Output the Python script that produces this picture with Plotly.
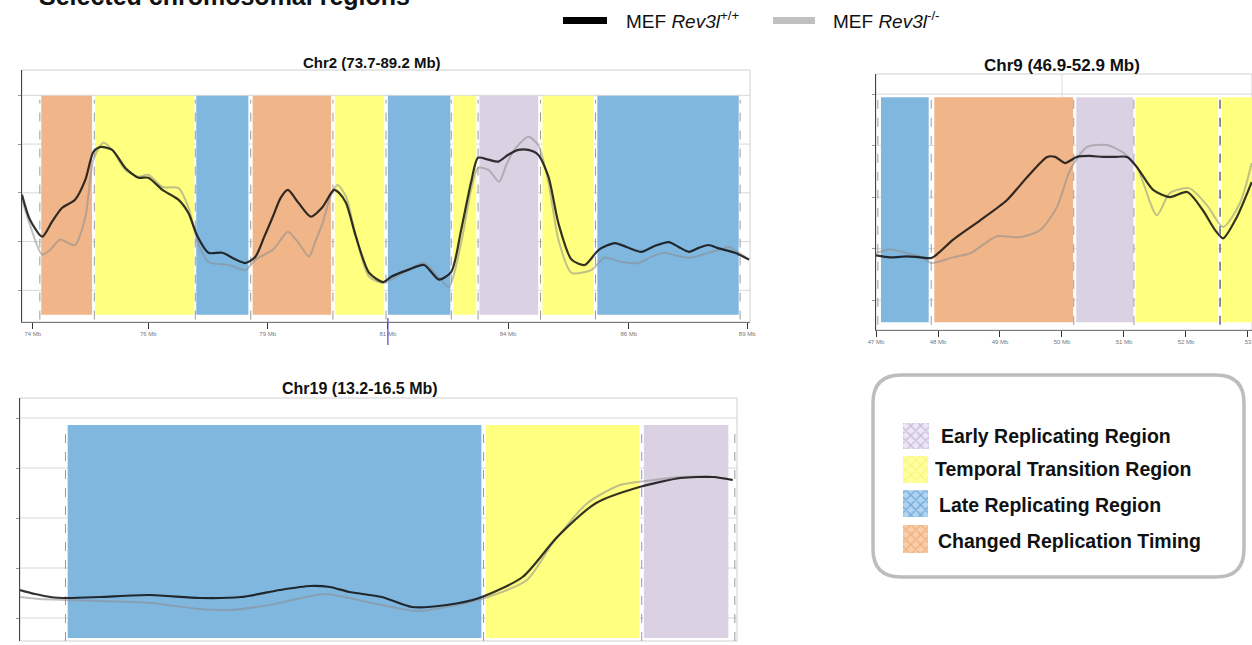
import plotly.graph_objects as go

W, H = 1252, 645

# ---------------- data ----------------
# Chr2 (73.7-89.2 Mb): replication timing profiles
chr2_x_wt = [73.70, 73.87, 74.13, 74.34, 74.55, 74.83, 75.05, 75.22, 75.37, 75.62, 75.90, 76.18, 76.39,
             76.69, 77.03, 77.24, 77.44, 77.67, 77.97, 78.25, 78.46, 78.67, 78.85, 79.04, 79.21, 79.36,
             79.59, 79.85, 80.10, 80.34, 80.45, 80.60, 80.81, 81.09, 81.39, 81.56, 81.92, 82.26, 82.58,
             82.84, 83.05, 83.26, 83.41, 83.63, 83.84, 84.05, 84.27, 84.48, 84.69, 84.91, 85.12, 85.40,
             85.68, 85.98, 86.32, 86.57, 86.89, 87.17, 87.47, 87.68, 87.90, 88.11, 88.32, 88.50, 88.66,
             88.88, 89.18]
chr2_y_wt = [-0.04, -0.55, -0.90, -0.59, -0.31, -0.14, 0.27, 0.84, 0.94, 0.88, 0.51, 0.31, 0.31,
             0.06, -0.14, -0.41, -0.90, -1.23, -1.23, -1.37, -1.44, -1.31, -0.92, -0.49, -0.10, 0.06,
             -0.21, -0.49, -0.29, 0.06, 0.00, -0.21, -0.90, -1.64, -1.83, -1.72, -1.58, -1.48, -1.78,
             -1.62, -0.76, 0.21, 0.72, 0.68, 0.64, 0.78, 0.88, 0.88, 0.78, 0.33, -0.62, -1.37,
             -1.48, -1.17, -1.03, -1.11, -1.21, -1.09, -1.01, -1.11, -1.21, -1.13, -1.07, -1.13, -1.17,
             -1.23, -1.37]
chr2_x_ko = [73.70, 73.87, 74.13, 74.30, 74.51, 74.68, 74.83, 75.05, 75.22, 75.43, 75.62, 75.90, 76.18,
             76.39, 76.69, 77.03, 77.24, 77.44, 77.67, 78.10, 78.46, 78.67, 79.04, 79.21, 79.36, 79.59,
             79.81, 79.96, 80.10, 80.28, 80.42, 80.60, 80.81, 81.09, 81.39, 81.56, 81.92, 82.26, 82.56,
             82.79, 83.05, 83.26, 83.41, 83.63, 83.86, 84.01, 84.18, 84.48, 84.69, 84.91, 85.12, 85.40,
             85.83, 86.10, 86.47, 86.83, 87.11, 87.38, 87.64, 87.90, 88.11, 88.32, 88.56, 88.75, 89.03,
             89.18]
chr2_y_ko = [-0.14, -0.66, -1.27, -1.17, -0.96, -1.03, -1.07, -0.49, 0.68, 1.03, 0.88, 0.47, 0.33,
             0.37, 0.12, 0.10, -0.29, -1.01, -1.42, -1.48, -1.58, -1.37, -1.17, -0.96, -0.80, -1.03,
             -1.31, -0.96, -0.62, -0.04, 0.16, -0.08, -0.90, -1.72, -1.85, -1.78, -1.58, -1.44, -1.72,
             -1.93, -1.03, 0.06, 0.51, 0.47, 0.23, 0.57, 0.88, 1.15, 0.98, 0.21, -0.96, -1.64,
             -1.58, -1.33, -1.42, -1.44, -1.31, -1.23, -1.29, -1.33, -1.29, -1.23, -1.17, -1.11, -1.27,
             -1.37]
chr2_reg_start = [74.11, 75.26, 77.41, 78.61, 80.36, 81.49, 82.88, 83.44, 84.78, 85.95]
chr2_reg_end = [75.19, 77.37, 78.52, 80.28, 81.41, 82.82, 83.37, 84.69, 85.87, 88.96]
chr2_reg_type = ["changed", "transition", "late", "changed", "transition", "late",
                 "transition", "early", "transition", "late"]
chr2_bounds = [74.08, 75.24, 77.39, 78.57, 80.32, 81.45, 82.84, 83.41, 84.74, 85.91, 88.99]
chr2_tickvals = [73.93, 76.39, 78.93, 81.49, 84.05, 86.62, 89.14]
chr2_ticktext = ["74 Mb", "76 Mb", "79 Mb", "81 Mb", "84 Mb", "86 Mb", "89 Mb"]

# Chr9 (46.9-52.9 Mb)
chr9_x_wt = [46.90, 47.13, 47.40, 47.61, 47.80, 48.14, 48.58, 49.01, 49.34, 49.66, 49.79, 49.95, 50.14,
             50.35, 50.56, 50.75, 50.95, 51.11, 51.37, 51.64, 51.92, 52.17, 52.37, 52.50, 52.72, 52.96]
chr9_y_wt = [-1.13, -1.17, -1.15, -1.17, -1.18, -0.83, -0.45, -0.06, 0.39, 0.78, 0.78, 0.66, 0.78,
             0.80, 0.78, 0.78, 0.78, 0.58, 0.14, 0.00, 0.10, -0.25, -0.64, -0.80, -0.39, 0.29]
chr9_x_ko = [46.90, 47.13, 47.40, 47.61, 47.80, 48.14, 48.42, 48.85, 49.22, 49.55, 49.82, 50.03, 50.30,
             50.63, 50.88, 51.11, 51.43, 51.64, 51.96, 52.24, 52.50, 52.77, 52.96]
chr9_y_ko = [-1.09, -1.01, -1.09, -1.15, -1.28, -1.17, -1.09, -0.76, -0.78, -0.64, -0.19, 0.52, 0.97,
             1.01, 0.87, 0.58, -0.35, 0.08, 0.17, -0.16, -0.58, -0.12, 0.66]
chr9_reg_start = [46.98, 47.84, 50.13, 51.09, 52.48]
chr9_reg_end = [47.75, 50.08, 51.05, 52.42, 53.05]
chr9_reg_type = ["late", "changed", "early", "transition", "transition"]
chr9_bounds = [46.93, 47.79, 50.09, 51.06]
chr9_bounds_dark = [52.45]
chr9_tickvals = [46.9, 47.9, 48.9, 49.9, 50.9, 51.9, 52.9]
chr9_ticktext = ["47 Mb", "48 Mb", "49 Mb", "50 Mb", "51 Mb", "52 Mb", "53"]

# Chr19 (13.2-16.5 Mb)
chr19_x_wt = [13.20, 13.27, 13.34, 13.42, 13.57, 13.80, 14.03, 14.22, 14.40, 14.54, 14.63, 14.72,
              14.87, 15.01, 15.17, 15.32, 15.52, 15.68, 15.86, 16.06, 16.25, 16.40, 16.49]
chr19_y_wt = [-1.44, -1.52, -1.58, -1.60, -1.58, -1.54, -1.60, -1.58, -1.44, -1.36, -1.38, -1.48,
              -1.58, -1.78, -1.74, -1.60, -1.18, -0.38, 0.30, 0.62, 0.80, 0.82, 0.76]
chr19_x_ko = [13.20, 13.29, 13.42, 13.57, 13.80, 14.03, 14.17, 14.35, 14.54, 14.61, 14.72, 14.87,
              15.03, 15.17, 15.36, 15.54, 15.66, 15.82, 15.97, 16.09, 16.25, 16.40, 16.49]
chr19_y_ko = [-1.58, -1.62, -1.64, -1.66, -1.70, -1.82, -1.84, -1.74, -1.56, -1.52, -1.60, -1.74,
              -1.86, -1.78, -1.58, -1.24, -0.50, 0.30, 0.66, 0.74, 0.82, 0.82, 0.76]
chr19_reg_start = [13.42, 15.35, 16.08]
chr19_reg_end = [15.33, 16.06, 16.47]
chr19_reg_type = ["late", "transition", "early"]
chr19_bounds = [13.41, 15.34, 16.07, 16.50]

legend_labels = ["Early Replicating Region", "Temporal Transition Region",
                 "Late Replicating Region", "Changed Replication Timing"]
legend_types = ["early", "transition", "late", "changed"]
series_names = ["MEF <i>Rev3l</i><sup>+/+</sup>", "MEF <i>Rev3l</i><sup>-/-</sup>"]

# ---------------- styles ----------------
REG_COL = {"early": "#DAD1E3", "transition": "#FFFF80", "late": "#80B7DF", "changed": "#F0B68A"}
PAT_FG = {"early": "#9C8CC4", "transition": "#F4F040", "late": "#2F7FCB", "changed": "#EE8B3C"}
PAT_BG = {"early": "#EDE8F4", "transition": "#FFFFA6", "late": "#B3D4EE", "changed": "#F8CFAE"}
WT_COL = "rgba(15,15,15,0.85)"
KO_COL = "rgba(140,140,140,0.55)"
FONT = "Liberation Sans, Arial, sans-serif"


def pxx(x):
    return x / W


def pyy(y):
    return 1 - y / H


fig = go.Figure()

panels = [
    dict(ax="", xd=(22, 750), yd=(70, 322), xr=[73.7, 89.2], yr=[-2.65, 2.52],
         reg=(-2.50, 1.99), bnd=(-2.60, 1.91),
         wt=(chr2_x_wt, chr2_y_wt), ko=(chr2_x_ko, chr2_y_ko),
         rs=chr2_reg_start, re=chr2_reg_end, rt=chr2_reg_type, b=chr2_bounds, bd=[],
         tv=chr2_tickvals, tt=chr2_ticktext, showx=True),
    dict(ax="2", xd=(876, 1252), yd=(74, 330), xr=[46.9, 52.965], yr=[-2.58, 2.39],
         reg=(-2.43, 1.94), bnd=(-2.48, 1.90),
         wt=(chr9_x_wt, chr9_y_wt), ko=(chr9_x_ko, chr9_y_ko),
         rs=chr9_reg_start, re=chr9_reg_end, rt=chr9_reg_type, b=chr9_bounds, bd=chr9_bounds_dark,
         tv=chr9_tickvals, tt=chr9_ticktext, showx=True),
    dict(ax="3", xd=(20, 737), yd=(398, 641), xr=[13.2, 16.51], yr=[-2.46, 2.40],
         reg=(-2.40, 1.86), bnd=(-2.46, 1.86),
         wt=(chr19_x_wt, chr19_y_wt), ko=(chr19_x_ko, chr19_y_ko),
         rs=chr19_reg_start, re=chr19_reg_end, rt=chr19_reg_type, b=chr19_bounds, bd=[],
         tv=None, tt=None, showx=False),
]

shapes = []
for p in panels:
    xa = "x" + p["ax"]
    ya = "y" + p["ax"]
    for s, e, t in zip(p["rs"], p["re"], p["rt"]):
        shapes.append(dict(type="rect", xref=xa, yref=ya, x0=s, x1=e, y0=p["reg"][0], y1=p["reg"][1],
                           fillcolor=REG_COL[t], line=dict(width=0), layer="below"))
    for gv in [-2, -1, 0, 1, 2]:
        if p["yr"][0] < gv < p["yr"][1]:
            shapes.append(dict(type="line", xref=xa + " domain", yref=ya, x0=0, x1=1, y0=gv, y1=gv,
                               line=dict(color="rgba(140,140,140,0.35)", width=1), layer="below"))
    for bx in p["b"]:
        shapes.append(dict(type="line", xref=xa, yref=ya, x0=bx, x1=bx, y0=p["bnd"][0], y1=p["bnd"][1],
                           line=dict(color="#9a9a9a", width=1, dash="dash"), layer="below"))
    for bx in p["bd"]:
        shapes.append(dict(type="line", xref=xa, yref=ya, x0=bx, x1=bx, y0=p["bnd"][0], y1=p["bnd"][1],
                           line=dict(color="#666677", width=1.5, dash="dash"), layer="above"))
    shapes.append(dict(type="rect", xref=xa + " domain", yref=ya + " domain", x0=0, x1=1, y0=0, y1=1,
                       line=dict(color="#cfcfcf", width=1), layer="below"))

    fig.add_trace(go.Scatter(x=p["ko"][0], y=p["ko"][1], mode="lines", xaxis=xa, yaxis=ya,
                             line=dict(color=KO_COL, width=2, shape="spline", smoothing=0.7),
                             showlegend=False, hoverinfo="skip"))
    fig.add_trace(go.Scatter(x=p["wt"][0], y=p["wt"][1], mode="lines", xaxis=xa, yaxis=ya,
                             line=dict(color=WT_COL, width=2.2, shape="spline", smoothing=0.7),
                             showlegend=False, hoverinfo="skip"))

    xkey = "xaxis" + p["ax"]
    ykey = "yaxis" + p["ax"]
    xdict = dict(domain=[pxx(p["xd"][0]), pxx(p["xd"][1])], range=p["xr"], anchor=ya, automargin=False,
                 showgrid=False, zeroline=False, showline=p["showx"], linecolor="#777")
    if p["showx"]:
        xdict.update(ticks="outside", ticklen=6, tickcolor="#333", tickmode="array",
                     tickvals=p["tv"], ticktext=p["tt"], showticklabels=True,
                     tickfont=dict(size=6, color="#777", family=FONT))
    else:
        xdict.update(showticklabels=False, ticks="")
    fig.layout[xkey] = xdict
    fig.layout[ykey] = dict(domain=[pyy(p["yd"][1]), pyy(p["yd"][0])], range=p["yr"], anchor=xa,
                            automargin=False, showgrid=False, zeroline=False, showline=True,
                            linecolor="#444", linewidth=1.5, ticks="outside", ticklen=3,
                            tickcolor="#999", tickmode="array", tickvals=[-2, -1, 0, 1, 2],
                            showticklabels=False)

# small blue marker on the chr2 ruler, faint centre line on chr9 header
shapes.append(dict(type="line", xref="x", yref="paper", x0=81.49, x1=81.49, y0=pyy(345), y1=pyy(318),
                   line=dict(color="#4a4ad0", width=1.2)))
shapes.append(dict(type="line", xref="x2", yref="paper", x0=49.9, x1=49.9, y0=pyy(97), y1=pyy(74),
                   line=dict(color="#dddddd", width=1)))

# overlay pixel axis for legend graphics
fig.layout["xaxis4"] = dict(domain=[0, 1], range=[0, W], anchor="y4", visible=False, fixedrange=True,
                            automargin=False)
fig.layout["yaxis4"] = dict(domain=[0, 1], range=[H, 0], anchor="x4", visible=False, fixedrange=True,
                            automargin=False)

# rounded legend box
bx0, bx1, by0, by1, r = 873, 1244, 375, 577, 28
path = (f"M {bx0 + r},{by0} L {bx1 - r},{by0} Q {bx1},{by0} {bx1},{by0 + r} "
        f"L {bx1},{by1 - r} Q {bx1},{by1} {bx1 - r},{by1} L {bx0 + r},{by1} "
        f"Q {bx0},{by1} {bx0},{by1 - r} L {bx0},{by0 + r} Q {bx0},{by0} {bx0 + r},{by0} Z")
shapes.append(dict(type="path", xref="x4", yref="y4", path=path,
                   line=dict(color="#bdbdbd", width=3.5), fillcolor="rgba(0,0,0,0)"))

# top series legend bars
shapes.append(dict(type="rect", xref="x4", yref="y4", x0=563, x1=607, y0=17, y1=24,
                   fillcolor="#000000", line=dict(width=0)))
shapes.append(dict(type="rect", xref="x4", yref="y4", x0=773, x1=815, y0=17, y1=24,
                   fillcolor="#c0c0c0", line=dict(width=0)))

# legend swatches with hatch patterns
sw_y = [(423, 449), (456, 483), (490, 517), (525, 553)]
sw_x = [(903, 929), (903, 928), (903, 928), (903, 928)]
txt_x = [939, 933, 937, 936]
txt_y = [436, 469, 505, 541]
for t, (ya0, ya1), (xa0, xa1) in zip(legend_types, sw_y, sw_x):
    fig.add_trace(go.Scatter(x=[xa0, xa1, xa1, xa0, xa0], y=[ya0, ya0, ya1, ya1, ya0],
                             xaxis="x4", yaxis="y4", mode="lines", fill="toself",
                             line=dict(width=0), fillcolor=PAT_BG[t],
                             fillpattern=dict(shape="x", fgcolor=PAT_FG[t], bgcolor=PAT_BG[t],
                                              size=7, solidity=0.35),
                             showlegend=False, hoverinfo="skip"))

annotations = []
for lab, tx, ty in zip(legend_labels, txt_x, txt_y):
    annotations.append(dict(text=f"<b>{lab}</b>", xref="x4", yref="y4", x=tx, y=ty,
                            xanchor="left", yanchor="middle", showarrow=False,
                            font=dict(size=19.5, family=FONT, color="#111")))

annotations.append(dict(text=series_names[0], xref="x4", yref="y4", x=624, y=20, xanchor="left",
                        yanchor="middle", showarrow=False, font=dict(size=19, family=FONT, color="#111")))
annotations.append(dict(text=series_names[1], xref="x4", yref="y4", x=831, y=20, xanchor="left",
                        yanchor="middle", showarrow=False, font=dict(size=19, family=FONT, color="#111")))

# panel titles
annotations.append(dict(text="<b>Chr2 (73.7-89.2 Mb)</b>", xref="x4", yref="y4", x=372, y=62,
                        showarrow=False, font=dict(size=15, family=FONT, color="#111")))
annotations.append(dict(text="<b>Chr9 (46.9-52.9 Mb)</b>", xref="x4", yref="y4", x=1062, y=65,
                        showarrow=False, font=dict(size=17, family=FONT, color="#111")))
annotations.append(dict(text="<b>Chr19 (13.2-16.5 Mb)</b>", xref="x4", yref="y4", x=360, y=388,
                        showarrow=False, font=dict(size=16, family=FONT, color="#111")))

# main title (partly cut off at top of page)
annotations.append(dict(text="<b>Selected chromosomal regions</b>", xref="paper", yref="paper",
                        x=pxx(37), y=pyy(-4), xanchor="left", yanchor="middle", showarrow=False,
                        font=dict(size=25, family=FONT, color="#111")))

fig.update_layout(width=W, height=H, margin=dict(l=0, r=0, t=0, b=0, pad=0), autosize=False,
                  paper_bgcolor="white", plot_bgcolor="rgba(0,0,0,0)",
                  shapes=shapes, annotations=annotations, showlegend=False)

fig.write_html("out.html", config={"displayModeBar": False, "staticPlot": True},
               post_script="document.body.style.margin='0';document.body.style.overflow='hidden';")
